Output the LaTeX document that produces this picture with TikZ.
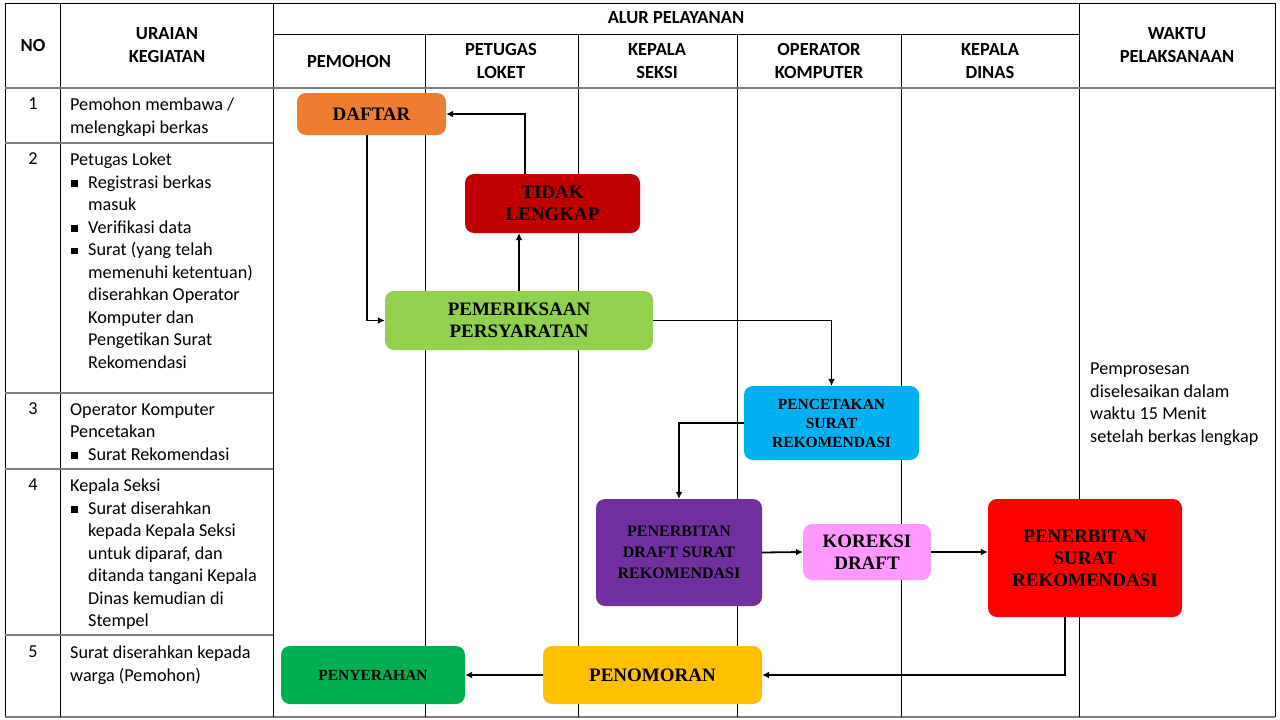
\documentclass[tikz,border=0pt]{standalone}
\usepackage{fontspec}
\setmainfont{Carlito}
\newfontfamily\boxfont{Liberation Serif}
\usetikzlibrary{arrows.meta}
\definecolor{cOrange}{HTML}{ED7D31}
\definecolor{cDarkRed}{HTML}{C00000}
\definecolor{cLime}{HTML}{92D050}
\definecolor{cCyan}{HTML}{00B0F0}
\definecolor{cPurple}{HTML}{7030A0}
\definecolor{cPink}{HTML}{FF99FF}
\definecolor{cRed}{HTML}{FF0000}
\definecolor{cGreen}{HTML}{00B050}
\definecolor{cGold}{HTML}{FFC000}
\definecolor{cGrid}{HTML}{7F7F7F}
\newcommand{\sqb}{\makebox[18pt][l]{\hspace{1pt}\rule[1.5pt]{6.5pt}{6.5pt}}}
\newcommand{\ind}{\hspace*{18pt}}
\tikzset{
  box/.style={rounded corners=9pt, align=center, inner sep=0pt, text=black},
  bigtxt/.style={font=\boxfont\bfseries\fontsize{19}{22}\selectfont},
  smalltxt/.style={font=\boxfont\bfseries\fontsize{15.5}{19}\selectfont},
  arr/.style={-{Latex[length=7pt,width=7pt]}, line width=1.8pt},
  hdr/.style={font=\bfseries\fontsize{18.5}{23}\selectfont, align=center, inner sep=0pt},
  body/.style={font=\fontsize{18.2}{22.5}\selectfont, align=left, anchor=north west, inner sep=0pt},
  num/.style={font=\fontsize{18.2}{22.5}\selectfont, inner sep=0pt},
  vline/.style={line width=0.9pt, black},
  hline/.style={line width=1.6pt, cGrid},
}
\begin{document}
\begin{tikzpicture}[x=1pt,y=-1pt]
\useasboundingbox (0,0) rectangle (1280,720);
\fill[white] (0,0) rectangle (1280,720);
% table frame
\draw[vline] (5,3) -- (1275,3);
\draw[vline] (5,3) -- (5,717);
\draw[vline] (1275,3) -- (1275,717);
\draw[hline] (5,717) -- (1275,717);
\draw[vline] (60,3) -- (60,717);
\draw[vline] (273,3) -- (273,717);
\draw[vline] (1079,3) -- (1079,717);
\draw[vline] (273,34) -- (1079,34);
\foreach \x in {425,578,737,901} \draw[vline] (\x,34) -- (\x,717);
\draw[hline] (5,88) -- (1275,88);
\foreach \y in {143,393,469,635} \draw[hline] (5,\y) -- (273,\y);
% headers
\node[hdr] (hno) at (33,45) {NO};
\node[hdr] (hur) at (167,45) {URAIAN\\KEGIATAN};
\node[hdr] (hal) at (676,18) {ALUR PELAYANAN};
\node[hdr] (hpm) at (349,61) {PEMOHON};
\node[hdr] (hpl) at (501,61) {PETUGAS\\LOKET};
\node[hdr] (hks) at (657,61) {KEPALA\\SEKSI};
\node[hdr] (hop) at (819,61) {OPERATOR\\KOMPUTER};
\node[hdr] (hkd) at (990,61) {KEPALA\\DINAS};
\node[hdr] (hwk) at (1177,45) {WAKTU\\PELAKSANAAN};
% numbers
\node[num] (n1) at (33,104) {1};
\node[num] (n2) at (33,159) {2};
\node[num] (n3) at (33,409) {3};
\node[num] (n4) at (33,485) {4};
\node[num] (n5) at (33,652) {5};
% descriptions
\node[body] (d1) at (70,98) {Pemohon membawa /\\melengkapi berkas};
\node[body] (d2) at (70,153) {Petugas Loket\\
\sqb Registrasi berkas\\\ind masuk\\
\sqb Verifikasi data\\
\sqb Surat (yang telah\\\ind memenuhi ketentuan)\\\ind diserahkan Operator\\\ind Komputer dan\\\ind Pengetikan Surat\\\ind Rekomendasi};
\node[body] (d3) at (70,403) {Operator Komputer\\Pencetakan\\\sqb Surat Rekomendasi};
\node[body] (d4) at (70,479) {Kepala Seksi\\
\sqb Surat diserahkan\\\ind kepada Kepala Seksi\\\ind untuk diparaf, dan\\\ind ditanda tangani Kepala\\\ind Dinas kemudian di\\\ind Stempel};
\node[body] (d5) at (70,646) {Surat diserahkan kepada\\warga (Pemohon)};
\node[body] (wk) at (1090,363) {Pemprosesan\\diselesaikan dalam\\waktu 15 Menit\\setelah berkas lengkap};
% flow boxes
\node[box, bigtxt, fill=cOrange, minimum width=149pt, minimum height=42pt] (daftar) at (371.5,114) {DAFTAR};
\node[box, bigtxt, fill=cDarkRed, minimum width=175pt, minimum height=59pt] (tidak) at (552.5,203.5) {TIDAK\\LENGKAP};
\node[box, bigtxt, fill=cLime, minimum width=268pt, minimum height=59pt] (periksa) at (519,320.5) {PEMERIKSAAN\\PERSYARATAN};
\node[box, smalltxt, fill=cCyan, minimum width=175pt, minimum height=74pt] (cetak) at (831.5,423) {PENCETAKAN\\SURAT\\REKOMENDASI};
\node[box, font=\boxfont\bfseries\fontsize{16}{21}\selectfont, fill=cPurple, minimum width=166pt, minimum height=107pt] (draft) at (679,552.5) {PENERBITAN\\DRAFT SURAT\\REKOMENDASI};
\node[box, bigtxt, fill=cPink, minimum width=128pt, minimum height=56pt] (koreksi) at (867,552) {KOREKSI\\DRAFT};
\node[box, bigtxt, fill=cRed, minimum width=194pt, minimum height=118pt] (terbit) at (1085,558) {PENERBITAN\\SURAT\\REKOMENDASI};
\node[box, smalltxt, fill=cGreen, minimum width=184pt, minimum height=58pt] (serah) at (373,675) {PENYERAHAN};
\node[box, bigtxt, fill=cGold, minimum width=219pt, minimum height=58pt] (nomor) at (652.5,675) {PENOMORAN};
% connectors
\draw[arr] ([xshift=-27.5pt]tidak.north) |- (daftar.east);
\draw[arr] ([xshift=-4.5pt]daftar.south) |- (periksa.west);
\draw[arr] (periksa.north) -- (periksa.north |- tidak.south);
\draw[arr] (periksa.east) -| (cetak.north);
\draw[arr] (cetak.west) -| (draft.north);
\draw[arr] (draft.east) -- (koreksi.west);
\draw[arr] (koreksi.east) -- (koreksi.east -| terbit.west);
\draw[arr] ([xshift=-20pt]terbit.south) |- (nomor.east);
\draw[arr] (nomor.west) -- (serah.east);
\end{tikzpicture}
\end{document}
